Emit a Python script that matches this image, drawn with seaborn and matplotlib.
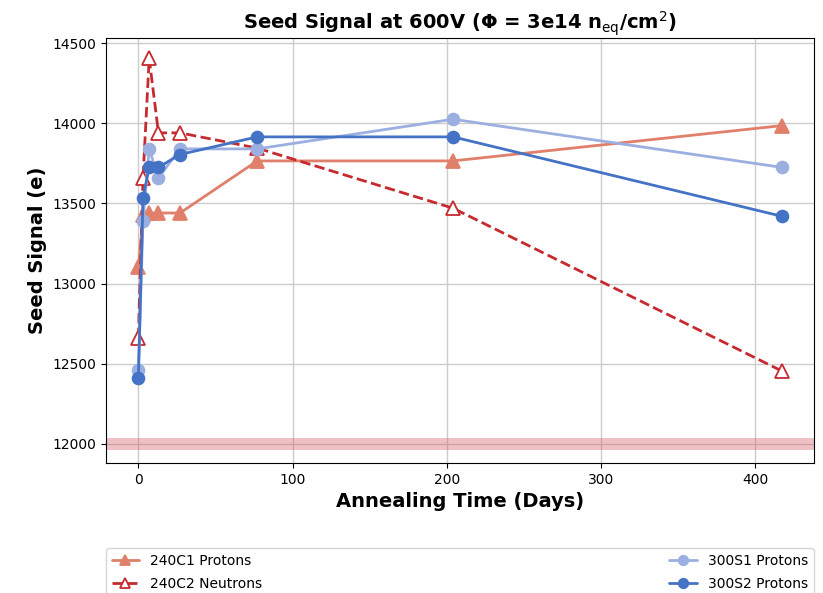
# seed signal vs annealing time at 600V
import pandas as pd
import seaborn as sns
import matplotlib
matplotlib.use('Agg')
import matplotlib.pyplot as plt

# Annealing days
days = [0, 3, 7, 13, 27, 77, 204, 417]

# Seed signal (e) per sensor
c1_protons = [13100, 13430, 13440, 13440, 13440, 13765, 13765, 13985]
c2_neutrons = [12660, 13660, 14405, 13940, 13940, 13845, 13470, 12455]
s1_protons = [12460, 13390, 13840, 13660, 13840, 13840, 14025, 13725]
s2_protons = [12410, 13535, 13725, 13725, 13805, 13915, 13915, 13420]

labels = ['240C1 Protons', '240C2 Neutrons', '300S1 Protons', '300S2 Protons']
reference_level = 12000

sns.set_style('ticks', {'axes.grid': True, 'grid.color': '#cccccc'})
plt.rcParams.update({'text.color': 'black', 'axes.labelcolor': 'black',
                     'xtick.color': 'black', 'ytick.color': 'black'})

fig = plt.figure(figsize=(8.23, 5.93), dpi=100)
ax = fig.add_axes([0.1288, 0.2192, 0.8602, 0.7162])

ax.axhline(reference_level, color='#d1505a', lw=8.6, alpha=0.35, zorder=1)

series = [
    (c1_protons, dict(color='#e07f6a', marker='^', markersize=9.5, linestyle='-', mfc='#e07f6a')),
    (c2_neutrons, dict(color='#c62a2f', marker='^', markersize=9.5, linestyle='--', mfc='white')),
    (s1_protons, dict(color='#9bafe1', marker='o', markersize=8.5, linestyle='-', mfc='#9bafe1')),
    (s2_protons, dict(color='#4472c4', marker='o', markersize=8.5, linestyle='-', mfc='#4472c4')),
]
for (vals, style), lab in zip(series, labels):
    df = pd.DataFrame({'days': days, 'signal': vals})
    sns.lineplot(data=df, x='days', y='signal', ax=ax, label=lab, linewidth=2,
                 markeredgecolor=style['color'], markeredgewidth=1.3, zorder=3, **style)

ax.set_ylim(11880, 14530)
ax.set_xlim(-21, 438)
ax.grid(True, color='#cccccc', linewidth=1)
for s in ax.spines.values():
    s.set_color('black')

ax.set_title('Seed Signal at 600V (Φ = 3e14 n$_{\\mathrm{eq}}$/cm$^2$)',
             fontsize=14, fontweight='bold')
ax.set_xlabel('Annealing Time (Days)', fontsize=14, fontweight='bold')
ax.set_ylabel('Seed Signal (e)', fontsize=14, fontweight='bold')
ax.tick_params(labelsize=10)

ax.legend(loc='upper left', bbox_to_anchor=(0, -0.2, 1, 0), mode='expand',
          borderaxespad=0, markerscale=0.8, labelspacing=0.7, ncol=2,
          fontsize=10, frameon=True)

fig.savefig('out.png', dpi=100)
